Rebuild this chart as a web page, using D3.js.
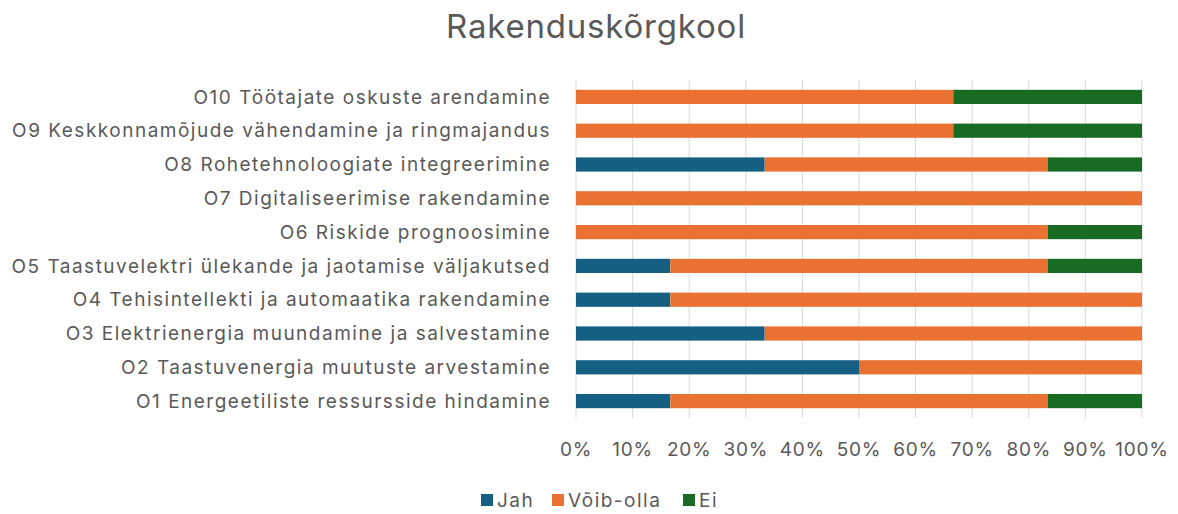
<!DOCTYPE html>
<html>
<head>
<meta charset="utf-8">
<script src="https://cdn.jsdelivr.net/npm/d3@7"></script>
<style>
  body { margin: 0; background: #fff; }
  text { font-family: Inter, "Open Sans", sans-serif; fill: #595959; letter-spacing: 1.5px; }
  .title { letter-spacing: 0.8px; }
</style>
</head>
<body>
<svg id="chart" width="1178" height="514"></svg>
<script>
// answers out of 6 respondents per topic
const categories = [
  "O1 Energeetiliste ressursside hindamine",
  "O2 Taastuvenergia muutuste arvestamine",
  "O3 Elektrienergia muundamine ja salvestamine",
  "O4 Tehisintellekti ja automaatika rakendamine",
  "O5 Taastuvelektri ülekande ja jaotamise väljakutsed",
  "O6 Riskide prognoosimine",
  "O7 Digitaliseerimise rakendamine",
  "O8 Rohetehnoloogiate integreerimine",
  "O9 Keskkonnamõjude vähendamine ja ringmajandus",
  "O10 Töötajate oskuste arendamine"
];
const jah      = [1, 3, 2, 1, 1, 0, 0, 2, 0, 0];
const voibOlla = [4, 3, 4, 5, 4, 5, 6, 3, 4, 4];
const ei       = [1, 0, 0, 0, 1, 1, 0, 1, 2, 2];
const seriesNames = ["Jah", "Võib-olla", "Ei"];
const colors = ["#156082", "#E97132", "#196B24"];
const ticks = [0, 0.1, 0.2, 0.3, 0.4, 0.5, 0.6, 0.7, 0.8, 0.9, 1];

const rows = categories.map((c, i) => {
  const tot = jah[i] + voibOlla[i] + ei[i];
  return { cat: c, "Jah": jah[i] / tot, "Võib-olla": voibOlla[i] / tot, "Ei": ei[i] / tot };
});

const svg = d3.select("#chart");
const margin = { top: 80, left: 576, right: 36, bottom: 96 };
const width = 1178, height = 514;

const x = d3.scaleLinear().domain([0, 1]).range([margin.left, width - margin.right]);
const y = d3.scaleBand()
  .domain(categories.slice().reverse())
  .range([margin.top, height - margin.bottom])
  .paddingInner(0.58).paddingOuter(0.29);

svg.append("text")
  .attr("class", "title")
  .attr("x", 596).attr("y", 38)
  .attr("text-anchor", "middle")
  .style("font-size", "33px")
  .text("Rakenduskõrgkool");

// gridlines
svg.append("g").selectAll("line").data(ticks).join("line")
  .attr("x1", d => x(d)).attr("x2", d => x(d))
  .attr("y1", margin.top).attr("y2", height - margin.bottom)
  .attr("stroke", "#d9d9d9").attr("stroke-width", 1);

const stack = d3.stack().keys(seriesNames)(rows);
svg.append("g").selectAll("g").data(stack).join("g")
  .attr("fill", (d, i) => colors[i])
  .selectAll("rect").data(d => d).join("rect")
  .attr("x", d => x(d[0]))
  .attr("width", d => x(d[1]) - x(d[0]))
  .attr("y", d => y(d.data.cat))
  .attr("height", y.bandwidth());

// category labels
svg.append("g").selectAll("text").data(categories).join("text")
  .attr("x", 551)
  .attr("y", d => y(d) + y.bandwidth() / 2)
  .attr("dy", "0.35em")
  .attr("text-anchor", "end")
  .style("font-size", "19px")
  .text(d => d);

// x axis labels
svg.append("g").selectAll("text").data(ticks).join("text")
  .attr("x", d => x(d))
  .attr("y", 449)
  .attr("dy", "0.35em")
  .attr("text-anchor", "middle")
  .style("font-size", "19px")
  .style("letter-spacing", "0.8px")
  .text(d => d3.format(".0%")(d));

// legend
const legendX = [481, 552, 683];
const lg = svg.append("g").selectAll("g").data(seriesNames).join("g")
  .attr("transform", (d, i) => `translate(${legendX[i]},494)`);
lg.append("rect").attr("width", 12).attr("height", 12).attr("fill", (d, i) => colors[i]);
lg.append("text").attr("x", 16).attr("y", 6).attr("dy", "0.35em")
  .style("font-size", "19px").text(d => d);
</script>
</body>
</html>
